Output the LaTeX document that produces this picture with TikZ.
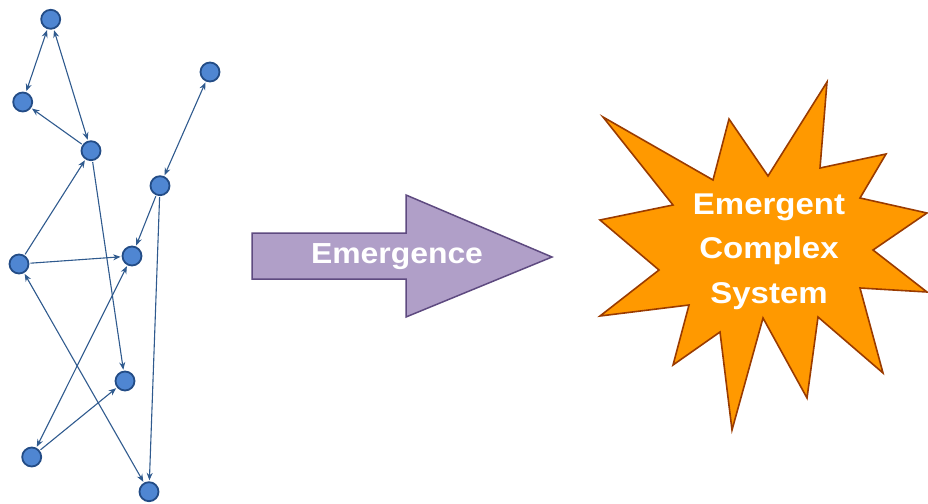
\documentclass[tikz,border=0pt]{standalone}
\usepackage{fontspec}
\setmainfont{Liberation Sans}
\usetikzlibrary{arrows.meta}
\definecolor{nodefill}{HTML}{4F86D2}
\definecolor{nodeedge}{HTML}{234C86}
\definecolor{linkcol}{HTML}{2F5A8E}
\definecolor{arrowfill}{HTML}{B09FC8}
\definecolor{arrowedge}{HTML}{5E4A80}
\definecolor{starfill}{HTML}{FF9900}
\definecolor{staredge}{HTML}{9A3B00}
\tikzset{
  dot/.style={circle,fill=nodefill,draw=nodeedge,line width=1.8pt,minimum size=19pt,inner sep=0pt},
  link/.style={draw=linkcol,line width=1.1pt,shorten >=1pt,shorten <=1pt},
  one/.style={link,-{Stealth[length=7.5pt,width=6pt]}},
  two/.style={link,{Stealth[length=7.5pt,width=6pt]}-{Stealth[length=7.5pt,width=6pt]}},
  lbl/.style={text=white,font=\bfseries\fontsize{29}{44}\selectfont,xscale=1.1,inner sep=0pt,align=center}
}
\begin{document}
\begin{tikzpicture}[x=1pt,y=-1pt]
\useasboundingbox (0,0) rectangle (928,503);
% network nodes
\node[dot] (A) at (50.7,19.3) {};
\node[dot] (B) at (22.7,102) {};
\node[dot] (C) at (91,150.7) {};
\node[dot] (D) at (210,72) {};
\node[dot] (E) at (160,185.7) {};
\node[dot] (F) at (19,264) {};
\node[dot] (G) at (132,256) {};
\node[dot] (H) at (125,381) {};
\node[dot] (I) at (31.7,457) {};
\node[dot] (J) at (149,491.7) {};
% links
\draw[two] (A) -- (B);
\draw[two] (A) -- (C);
\draw[one] (C) -- (B);
\draw[two] (D) -- (E);
\draw[one] (E) -- (G);
\draw[one] (E) -- (J);
\draw[one] (F) -- (C);
\draw[one] (F) -- (G);
\draw[one] (C) -- (H);
\draw[two] (F) -- (J);
\draw[two] (G) -- (I);
\draw[one] (I) -- (H);
% big arrow
\draw[fill=arrowfill,draw=arrowedge,line width=1.5pt,line join=miter]
  (252,233) -- (406,233) -- (406,195) -- (552,257) -- (406,317) -- (406,279) -- (252,279) -- cycle;
\node[lbl,anchor=base] (em) at (397,263) {Emergence};
% star
\draw[fill=starfill,draw=staredge,line width=1.6pt,line join=miter]
  (603,117) -- (713,180) -- (729,119) -- (768,176) -- (827,82) -- (820,168)
  -- (886,154) -- (860,198) -- (927,213) -- (873,250) -- (927,292) -- (860,288)
  -- (883,373) -- (818,317) -- (807,398) -- (763,318) -- (732,430) -- (720,332)
  -- (673,365) -- (689,305) -- (600,316) -- (659,270) -- (600,220) -- (673,205) -- cycle;
\node[lbl,font=\bfseries\fontsize{30}{44.5}\selectfont] (ecs) at (769,251.5) {Emergent\\Complex\\System};
\end{tikzpicture}
\end{document}
